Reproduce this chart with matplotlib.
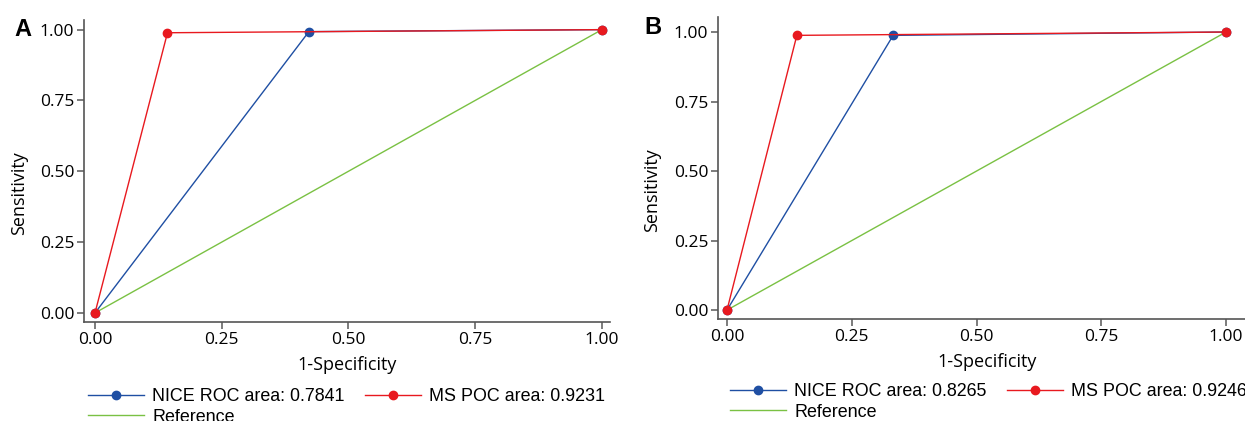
import matplotlib
matplotlib.use("Agg")
import matplotlib.pyplot as plt

# panel A
a_nice_x = [0.0, 0.422, 1.0]
a_nice_y = [0.0, 0.993, 1.0]
a_ms_x = [0.0, 0.143, 1.0]
a_ms_y = [0.0, 0.989, 1.0]
a_nice_label = "NICE ROC area: 0.7841"
a_ms_label = "MS POC area: 0.9231"

# panel B
b_nice_x = [0.0, 0.333, 1.0]
b_nice_y = [0.0, 0.988, 1.0]
b_ms_x = [0.0, 0.140, 1.0]
b_ms_y = [0.0, 0.988, 1.0]
b_nice_label = "NICE ROC area: 0.8265"
b_ms_label = "MS POC area: 0.9246"

ref_x = [0.0, 1.0]
ref_y = [0.0, 1.0]
ticks = [0.0, 0.25, 0.5, 0.75, 1.0]
tick_labels = ["0.00", "0.25", "0.50", "0.75", "1.00"]

C_NICE = "#1f4fa3"
C_MS = "#e8191f"
C_REF = "#7ac143"
SPINE = "#555555"

plt.rcParams.update({"font.family": ["Open Sans", "DejaVu Sans"],
                     "font.size": 13})
LEG_FONT = {"family": "Liberation Sans", "size": 12.9}

fig = plt.figure(figsize=(12.45, 4.21), dpi=100)
W, H = 1245, 421


def px_axes(left, top, right, bottom):
    return fig.add_axes([left / W, 1 - bottom / H, (right - left) / W,
                         (bottom - top) / H])


def panel(ax, nice_x, nice_y, ms_x, ms_y, nice_label, ms_label,
          xlim, ylim, leg_xy, ylab_xy, letter, letter_xy):
    ax.plot(ref_x, ref_y, color=C_REF, lw=1.0, label="Reference", zorder=2)
    ax.plot(nice_x, nice_y, color=C_NICE, lw=1.0, marker="o", ms=6,
            label=nice_label, zorder=3)
    ax.plot(ms_x, ms_y, color=C_MS, lw=1.0, marker="o", ms=6,
            label=ms_label, zorder=3)
    ax.set_xlim(*xlim)
    ax.set_ylim(*ylim)
    ax.set_xticks(ticks)
    ax.set_xticklabels(tick_labels)
    ax.set_yticks(ticks)
    ax.set_yticklabels(tick_labels)
    ax.tick_params(length=5, width=1.2, color="#666666", pad=2, labelsize=12.5)
    for s in ("top", "right"):
        ax.spines[s].set_visible(False)
    for s in ("left", "bottom"):
        ax.spines[s].set_color(SPINE)
        ax.spines[s].set_linewidth(1.2)
    ax.set_xlabel("1-Specificity", labelpad=6)
    fig.text(ylab_xy[0] / W, 1 - ylab_xy[1] / H, "Sensitivity",
             rotation=90, ha="center", va="center")
    handles, labels = ax.get_legend_handles_labels()
    order = [1, 0, 2]
    ax.legend([handles[i] for i in order], [labels[i] for i in order],
              loc="upper left", bbox_to_anchor=(leg_xy[0] / W, 1 - leg_xy[1] / H),
              bbox_transform=fig.transFigure, ncol=2, frameon=False,
              borderpad=0, borderaxespad=0, handlelength=3.15,
              handletextpad=0.45, columnspacing=1.1, labelspacing=0.2,
              prop=LEG_FONT)
    fig.text(letter_xy[0] / W, 1 - letter_xy[1] / H, letter, fontsize=17,
             fontweight="bold", va="center", ha="left", family="Liberation Sans")


ax_a = px_axes(84, 20, 610, 322)
panel(ax_a, a_nice_x, a_nice_y, a_ms_x, a_ms_y, a_nice_label, a_ms_label,
      (-0.0217, 1.016), (-0.032, 1.034), (88, 388), (19, 193), "A", (14, 29))

ax_b = px_axes(718, 17, 1256, 319)
panel(ax_b, b_nice_x, b_nice_y, b_ms_x, b_ms_y, b_nice_label, b_ms_label,
      (-0.018, 1.06), (-0.032, 1.054), (730, 383), (652, 190), "B", (644, 27))

fig.savefig("out.png", dpi=100)
